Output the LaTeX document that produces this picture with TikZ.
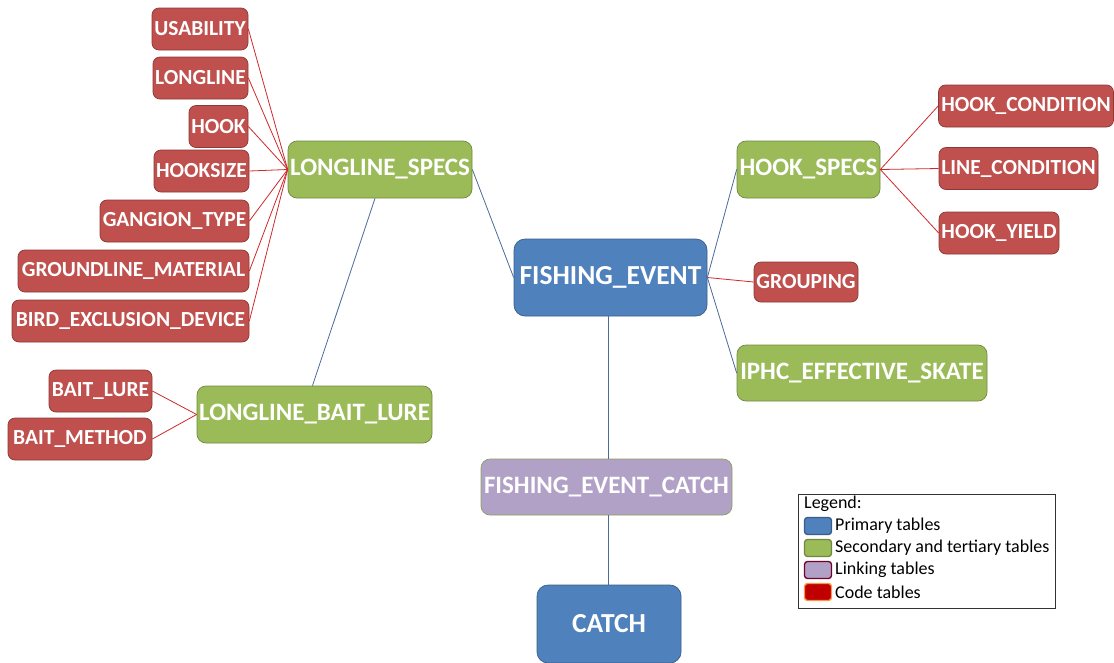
\documentclass[tikz,border=0pt]{standalone}
\usepackage{fontspec}
\setmainfont{Carlito}[BoldFont={Carlito Bold}]
\definecolor{bluef}{HTML}{4F81BD}
\definecolor{blued}{HTML}{385D8A}
\definecolor{greenf}{HTML}{9BBB59}
\definecolor{greend}{HTML}{71893F}
\definecolor{purplef}{HTML}{B2A1C7}
\definecolor{purpled}{HTML}{8C9F5E}
\definecolor{redf}{HTML}{C0504D}
\definecolor{redd}{HTML}{8C3836}
\definecolor{redline}{HTML}{D02828}
\definecolor{blueline}{HTML}{4A6A9A}
\definecolor{codef}{HTML}{C00000}
\definecolor{coded}{HTML}{F79646}
\tikzset{
  tbl/.style={rounded corners=7pt, inner sep=0pt, text=white, font=\bfseries, line width=0.7pt},
  codebox/.style={tbl, fill=redf, draw=redd, minimum height=42pt, font=\bfseries\fontsize{21.5}{24}\selectfont},
  secbox/.style={tbl, rounded corners=9pt, fill=greenf, draw=greend, minimum height=57pt, font=\bfseries\fontsize{25}{28}\selectfont},
  primbox/.style={tbl, rounded corners=11pt, fill=bluef, draw=blued, font=\bfseries\fontsize{27.5}{30}\selectfont},
  linkbox/.style={tbl, rounded corners=9pt, fill=purplef, draw=purpled, minimum height=56pt, font=\bfseries\fontsize{25}{28}\selectfont},
  rline/.style={draw=redline, line width=0.8pt},
  bline/.style={draw=blueline, line width=0.8pt},
  swatch/.style={rounded corners=3pt, minimum width=27pt, minimum height=17pt, inner sep=0pt, line width=1.3pt},
  legtext/.style={anchor=west, inner sep=0pt, font=\fontsize{18}{21}\selectfont}
}
\begin{document}
\begin{tikzpicture}[x=1pt,y=-1pt]
\useasboundingbox (0,0) rectangle (1114,662);
% code tables left
\node[codebox, minimum width=96pt] (usab) at (200,29) {USABILITY};
\node[codebox, minimum width=95pt] (ll) at (200.5,78) {LONGLINE};
\node[codebox, minimum width=59pt] (hook) at (218.5,126.5) {HOOK};
\node[codebox, minimum width=95pt] (hsize) at (201.5,171) {HOOKSIZE};
\node[codebox, minimum width=149pt] (gang) at (174.5,221) {GANGION\_TYPE};
\node[codebox, minimum width=231pt] (gmat) at (133.5,271) {GROUNDLINE\_MATERIAL};
\node[codebox, minimum width=237pt] (bird) at (130.5,321) {BIRD\_EXCLUSION\_DEVICE};
\node[codebox, minimum width=103pt] (bl) at (100.5,391) {BAIT\_LURE};
\node[codebox, minimum width=144pt] (bm) at (80,439) {BAIT\_METHOD};
% right code tables
\node[codebox, minimum width=175pt] (hc) at (1026,106) {HOOK\_CONDITION};
\node[codebox, minimum width=159pt] (lc) at (1018.5,168.5) {LINE\_CONDITION};
\node[codebox, minimum width=120pt] (hy) at (999,233) {HOOK\_YIELD};
\node[codebox, minimum width=104pt, minimum height=40pt] (grp) at (806,282) {GROUPING};
% secondary
\node[secbox, minimum width=184pt] (lls) at (380,169.5) {LONGLINE\_SPECS};
\node[secbox, minimum width=143pt] (hs) at (808.5,169.5) {HOOK\_SPECS};
\node[secbox, minimum width=250pt, minimum height=56pt] (iphc) at (862,373) {IPHC\_EFFECTIVE\_SKATE};
\node[secbox, minimum width=235pt] (lbl) at (314.5,414.5) {LONGLINE\_BAIT\_LURE};
% primary and linking
\node[primbox, minimum width=193pt, minimum height=77pt] (fe) at (610.5,277.5) {FISHING\_EVENT};
\node[linkbox, minimum width=251pt] (fec) at (606.5,487) {FISHING\_EVENT\_CATCH};
\node[primbox, minimum width=144pt, minimum height=78pt] (catch) at (609,624) {CATCH};
% connectors
\foreach \n in {usab,ll,hook,hsize,gang,gmat,bird}
  \path[rline] (\n.east) -- (lls.west);
\foreach \n in {hc,lc,hy}
  \path[rline] (hs.east) -- (\n.west);
\path[rline] (bl.east) -- (lbl.west);
\path[rline] (bm.east) -- (lbl.west);
\path[rline] (fe.east) -- (grp.west);
\path[bline] (lls.east) -- (fe.west);
\path[bline] (hs.west) -- (fe.east);
\path[bline] (fe.east) -- (iphc.west);
\path[bline] (lls.south) ++(-5,0) coordinate (llsb);
\coordinate (lblt) at ([xshift=-2pt]lbl.north);
\path[bline] (llsb) -- (lblt);
\coordinate (fes) at ([xshift=-2pt]fe.south);
\coordinate (fect) at (fes |- fec.north);
\path[bline] (fes) -- (fect);
\coordinate (fecs) at (fes |- fec.south);
\coordinate (catn) at (fes |- catch.north);
\path[bline] (fecs) -- (catn);
% legend
\node[draw=black!80, line width=0.8pt, minimum width=257pt, minimum height=114pt, inner sep=0pt] (leg) at (926.5,551) {};
\node[legtext] (legt) at (804,504) {Legend:};
\node[swatch, fill=bluef, draw=blued] (s1) at (818,526) {};
\node[legtext] (t1) at (835,526) {Primary tables};
\node[swatch, fill=greenf, draw=greend] (s2) at (818,548) {};
\node[legtext] (t2) at (835,548) {Secondary and tertiary tables};
\node[swatch, fill=purplef, draw=purple!60!black] (s3) at (818,570) {};
\node[legtext] (t3) at (835,570) {Linking tables};
\node[swatch, fill=codef, draw=coded] (s4) at (818,592) {};
\node[legtext] (t4) at (835,592) {Code tables};
\end{tikzpicture}
\end{document}
